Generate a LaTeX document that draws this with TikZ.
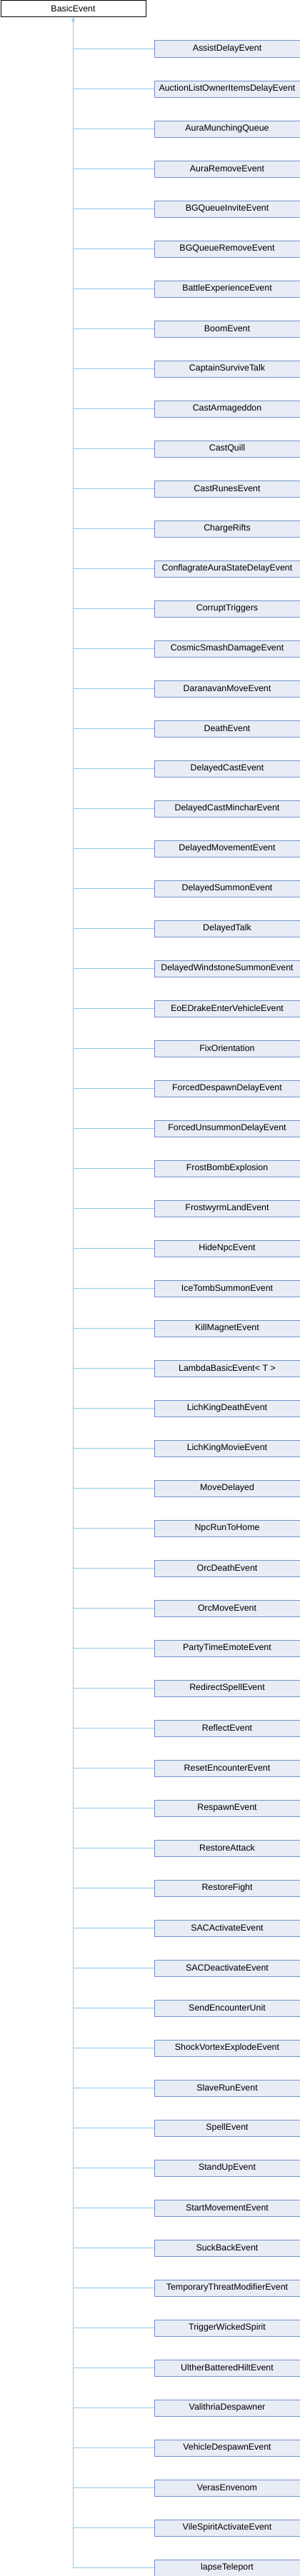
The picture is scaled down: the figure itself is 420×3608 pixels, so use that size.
\documentclass[tikz,border=0pt]{standalone}
\usepackage{fontspec}
\setmainfont{Liberation Sans}
\usetikzlibrary{arrows.meta}
\definecolor{edgec}{HTML}{8CC7EA}
\definecolor{boxfill}{HTML}{E8ECF5}
\definecolor{boxline}{HTML}{7391CC}
\tikzset{
  basebox/.style={draw=black, fill=white, line width=1pt, minimum width=203pt, minimum height=22.5pt, inner sep=0pt, font=\fontsize{12.4}{14}\selectfont, anchor=north west},
  childbox/.style={draw=boxline, fill=boxfill, line width=1pt, minimum width=204pt, minimum height=23pt, inner sep=0pt, font=\fontsize{12.4}{14}\selectfont, anchor=north west},
  edgeline/.style={draw=edgec, line width=1pt}
}
\begin{document}
\begin{tikzpicture}[x=1pt,y=-1pt]
\useasboundingbox (0,0) rectangle (420,3608);
\node[basebox] (b) at (0.5,0.5) {BasicEvent};
\foreach \name [count=\i] in {
AssistDelayEvent,
AuctionListOwnerItemsDelayEvent,
AuraMunchingQueue,
AuraRemoveEvent,
BGQueueInviteEvent,
BGQueueRemoveEvent,
BattleExperienceEvent,
BoomEvent,
CaptainSurviveTalk,
CastArmageddon,
CastQuill,
CastRunesEvent,
ChargeRifts,
ConflagrateAuraStateDelayEvent,
CorruptTriggers,
CosmicSmashDamageEvent,
DaranavanMoveEvent,
DeathEvent,
DelayedCastEvent,
DelayedCastMincharEvent,
DelayedMovementEvent,
DelayedSummonEvent,
DelayedTalk,
DelayedWindstoneSummonEvent,
EoEDrakeEnterVehicleEvent,
FixOrientation,
ForcedDespawnDelayEvent,
ForcedUnsummonDelayEvent,
FrostBombExplosion,
FrostwyrmLandEvent,
HideNpcEvent,
IceTombSummonEvent,
KillMagnetEvent,
{LambdaBasicEvent< T >},
LichKingDeathEvent,
LichKingMovieEvent,
MoveDelayed,
NpcRunToHome,
OrcDeathEvent,
OrcMoveEvent,
PartyTimeEmoteEvent,
RedirectSpellEvent,
ReflectEvent,
ResetEncounterEvent,
RespawnEvent,
RestoreAttack,
RestoreFight,
SACActivateEvent,
SACDeactivateEvent,
SendEncounterUnit,
ShockVortexExplodeEvent,
SlaveRunEvent,
SpellEvent,
StandUpEvent,
StartMovementEvent,
SuckBackEvent,
TemporaryThreatModifierEvent,
TriggerWickedSpirit,
UltherBatteredHiltEvent,
ValithriaDespawner,
VehicleDespawnEvent,
VerasEnvenom,
VileSpiritActivateEvent,
lapseTeleport}{
  \node[childbox] (c\i) at (215.5, {56.5+56*(\i-1)}) {\name};
  \draw[edgeline] (c\i.west) -- (b.south |- c\i.west);
}
\draw[edgeline, {Triangle[open, length=6pt, width=5pt, fill=edgec!40]}-] (b.south) -- (b.south |- c64.west);
\end{tikzpicture}
\end{document}
